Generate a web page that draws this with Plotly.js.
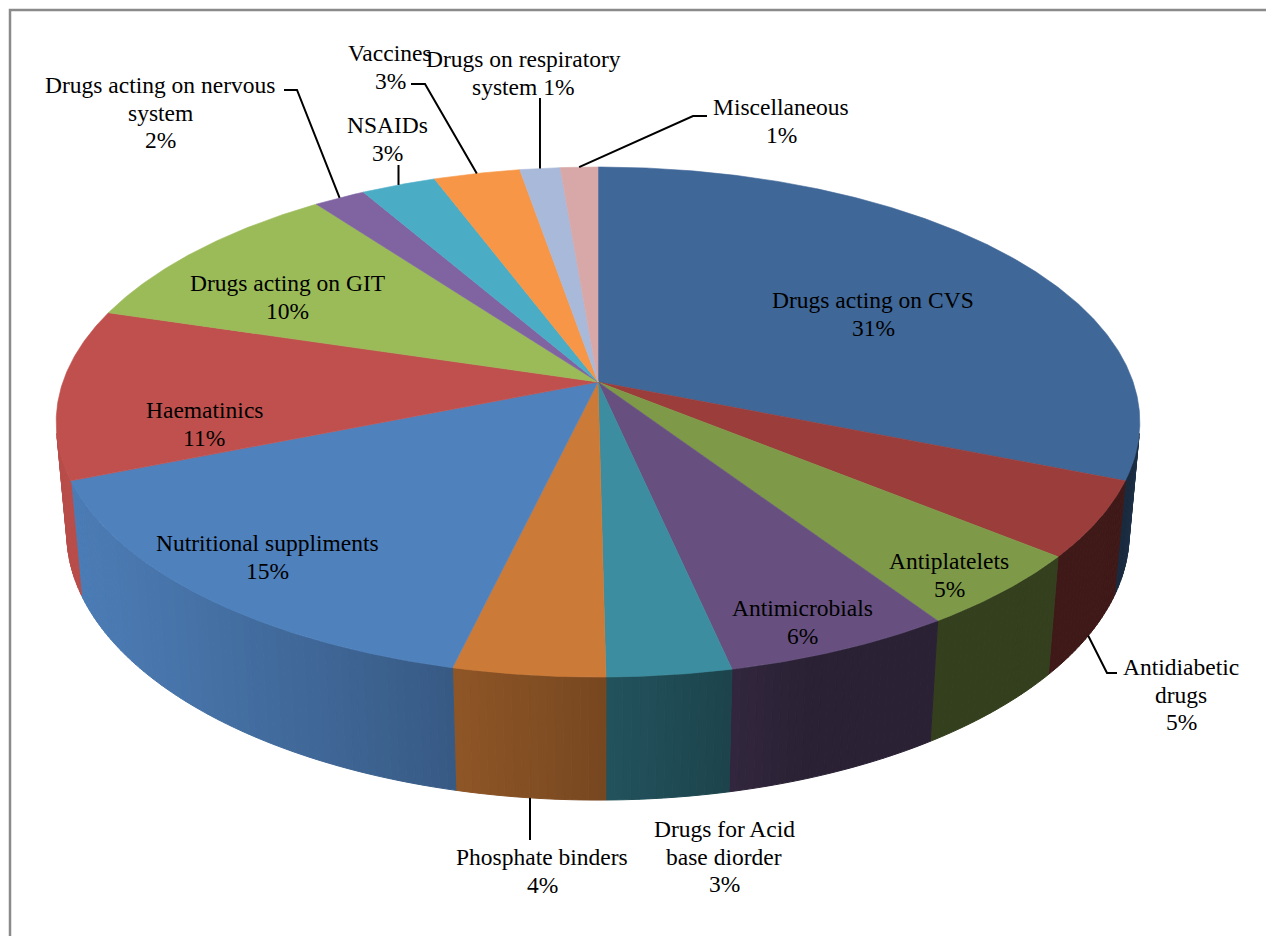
<!DOCTYPE html>
<html>
<head>
<meta charset="utf-8">
<script src="https://cdn.plot.ly/plotly-3.0.1.min.js"></script>
<style>html,body{margin:0;padding:0;background:#fff;}#chart{width:1266px;height:936px;}</style>
</head>
<body>
<div id="chart"></div>
<script>
// ---------------- DATA ----------------
const categories = ["Drugs acting on CVS", "Antidiabetic drugs", "Antiplatelets", "Antimicrobials",
  "Drugs for Acid base diorder", "Phosphate binders", "Nutritional suppliments", "Haematinics",
  "Drugs acting on GIT", "Drugs acting on nervous system", "NSAIDs", "Vaccines",
  "Drugs on respiratory system", "Miscellaneous"];
const values = [31.1, 4.8, 4.8, 5.9, 3.2, 3.9, 15.2, 10.8, 10.2, 1.8, 2.6, 3.0, 1.4, 1.3];
// label text lines ({p} = percentage)
const labelLines = [
  ["Drugs acting on CVS", "{p}"], ["Antidiabetic", "drugs", "{p}"], ["Antiplatelets", "{p}"],
  ["Antimicrobials", "{p}"], ["Drugs for Acid", "base diorder", "{p}"], ["Phosphate binders", "{p}"],
  ["Nutritional suppliments", "{p}"], ["Haematinics", "{p}"], ["Drugs acting on GIT", "{p}"],
  ["Drugs acting on nervous", "system", "{p}"], ["NSAIDs", "{p}"], ["Vaccines", "{p}"],
  ["Drugs on respiratory", "system {p}"], ["Miscellaneous", "{p}"]];
const colors = ["#3F6797", "#9A3D3B", "#7E9A48", "#67507F", "#3B8D9F", "#CC7A37", "#4F81BD",
  "#C0504D", "#9BBB59", "#8064A2", "#4BACC6", "#F79646", "#A9B9D9", "#D8A8A8"];

// ---------------- LAYOUT / STYLE ----------------
const W = 1266, Hh = 936;
const cx = 598, cy = 382, F = 3018, Dist = 5.64, elev = 27.7 * Math.PI / 180, thick = 0.236;
const sE = Math.sin(elev), cE = Math.cos(elev);
const labelPos = [[873, 300], [1181, 667], [949, 561], [802, 608], [724, 829], [542, 857],
  [267, 543], [204, 410], [287, 283], [160, 85], [387, 125], [390, 53], [523, 59], [781, 107]];
const lineGap = 27.5;
const leaders = [null, {h: -1, pts: [[1107, 673], [1117, 673]]}, null, null, null,
  {h: -1, pts: [[null, 840]]}, null, null, null,
  {h: 0, pts: [[297, 90], [284, 90]]}, {h: 0, pts: [[null, 165]]},
  {h: 0, pts: [[425, 84], [411, 84]]}, {h: 0, pts: [[null, 98]]},
  {h: 0, pts: [[693, 116], [707, 116]]}];
const FONT = '"Liberation Serif", "Times New Roman", Times, serif';

function proj(a, h) {
  const X = Math.sin(a), Z = -Math.cos(a);
  const depth = Dist - h * sE - Z * cE;
  const up = h * cE - Z * sE;
  return [cx + F * X / depth, cy - F * up / depth];
}
function hexToRgb(h) { return [parseInt(h.slice(1,3),16), parseInt(h.slice(3,5),16), parseInt(h.slice(5,7),16)]; }
function shade(hex, f) { const c = hexToRgb(hex).map(v => Math.round(Math.min(255, v * f))); return `rgb(${c[0]},${c[1]},${c[2]})`; }
function wallFactor(aRad) {
  const a = aRad * 180 / Math.PI;
  if (a < 110) return 0.41 + 0.12 * Math.min(1, (110 - a) / 12);
  const t = Math.max(0, Math.min(1, (a - 160) / 95));
  return 0.41 + 0.55 * Math.sin(t * Math.PI / 2);
}

const total = values.reduce((s, v) => s + v, 0);
const starts = [], ends = [];
let acc = 0;
values.forEach(v => { starts.push(acc / total * 2 * Math.PI); acc += v; ends.push(acc / total * 2 * Math.PI); });

const traces = [];
// side walls (front-facing part only)
const aVis = Math.acos(-1 / (Dist * cE));
const visLo = aVis, visHi = 2 * Math.PI - aVis;
const step = 0.8 * Math.PI / 180;
values.forEach((v, i) => {
  const a0 = Math.max(starts[i], visLo), a1 = Math.min(ends[i], visHi);
  if (a1 <= a0) return;
  const n = Math.max(1, Math.ceil((a1 - a0) / step));
  for (let k = 0; k < n; k++) {
    const b0 = a0 + (a1 - a0) * k / n, b1 = a0 + (a1 - a0) * (k + 1) / n;
    const pts = [proj(b0, 0), proj(b1, 0), proj(b1, -thick), proj(b0, -thick), proj(b0, 0)];
    const col = shade(colors[i], wallFactor((b0 + b1) / 2));
    traces.push({type: 'scatter', mode: 'lines', x: pts.map(p => p[0]), y: pts.map(p => p[1]),
      fill: 'toself', fillcolor: col, line: {color: col, width: 1}, hoverinfo: 'skip', showlegend: false});
  }
});
// top faces
values.forEach((v, i) => {
  const xs = [cx], ys = [cy];
  const n = Math.max(2, Math.ceil((ends[i] - starts[i]) / (0.4 * Math.PI / 180)));
  for (let k = 0; k <= n; k++) {
    const p = proj(starts[i] + (ends[i] - starts[i]) * k / n, 0);
    xs.push(p[0]); ys.push(p[1]);
  }
  xs.push(cx); ys.push(cy);
  traces.push({type: 'scatter', mode: 'lines', x: xs, y: ys, fill: 'toself', fillcolor: colors[i],
    line: {color: colors[i], width: 0.6}, hoverinfo: 'skip', showlegend: false, name: categories[i]});
});
// leader lines
leaders.forEach((ld, i) => {
  if (!ld) return;
  const mid = (starts[i] + ends[i]) / 2;
  const s = proj(mid, ld.h < 0 ? -thick : 0);
  const xs = [s[0]], ys = [s[1]];
  ld.pts.forEach(p => { xs.push(p[0] === null ? s[0] : p[0]); ys.push(p[1]); });
  traces.push({type: 'scatter', mode: 'lines', x: xs, y: ys, line: {color: '#000', width: 2},
    hoverinfo: 'skip', showlegend: false});
});

// labels
const annotations = [];
values.forEach((v, i) => {
  const pct = Math.round(v / total * 100) + '%';
  labelLines[i].forEach((ln, j) => {
    annotations.push({x: labelPos[i][0], y: labelPos[i][1] + j * lineGap, xref: 'x', yref: 'y',
      text: ln.replace('{p}', pct), showarrow: false, xanchor: 'center', yanchor: 'middle',
      font: {family: FONT, size: 23.5, color: '#000'}});
  });
});

const layout = {
  width: W, height: Hh, margin: {l: 0, r: 0, t: 0, b: 0},
  font: {family: FONT},
  paper_bgcolor: '#fff', plot_bgcolor: '#fff', showlegend: false, hovermode: false,
  xaxis: {range: [0, W], visible: false, fixedrange: true},
  yaxis: {range: [Hh, 0], visible: false, fixedrange: true},
  annotations: annotations,
  shapes: [{type: 'rect', xref: 'x', yref: 'y', x0: 10, y0: 10, x1: W + 200, y1: Hh + 200,
    line: {color: '#8a8a8a', width: 2.5}, fillcolor: 'rgba(0,0,0,0)', layer: 'above'}]
};
Plotly.newPlot('chart', traces, layout, {staticPlot: true, displayModeBar: false});
</script>
</body>
</html>
